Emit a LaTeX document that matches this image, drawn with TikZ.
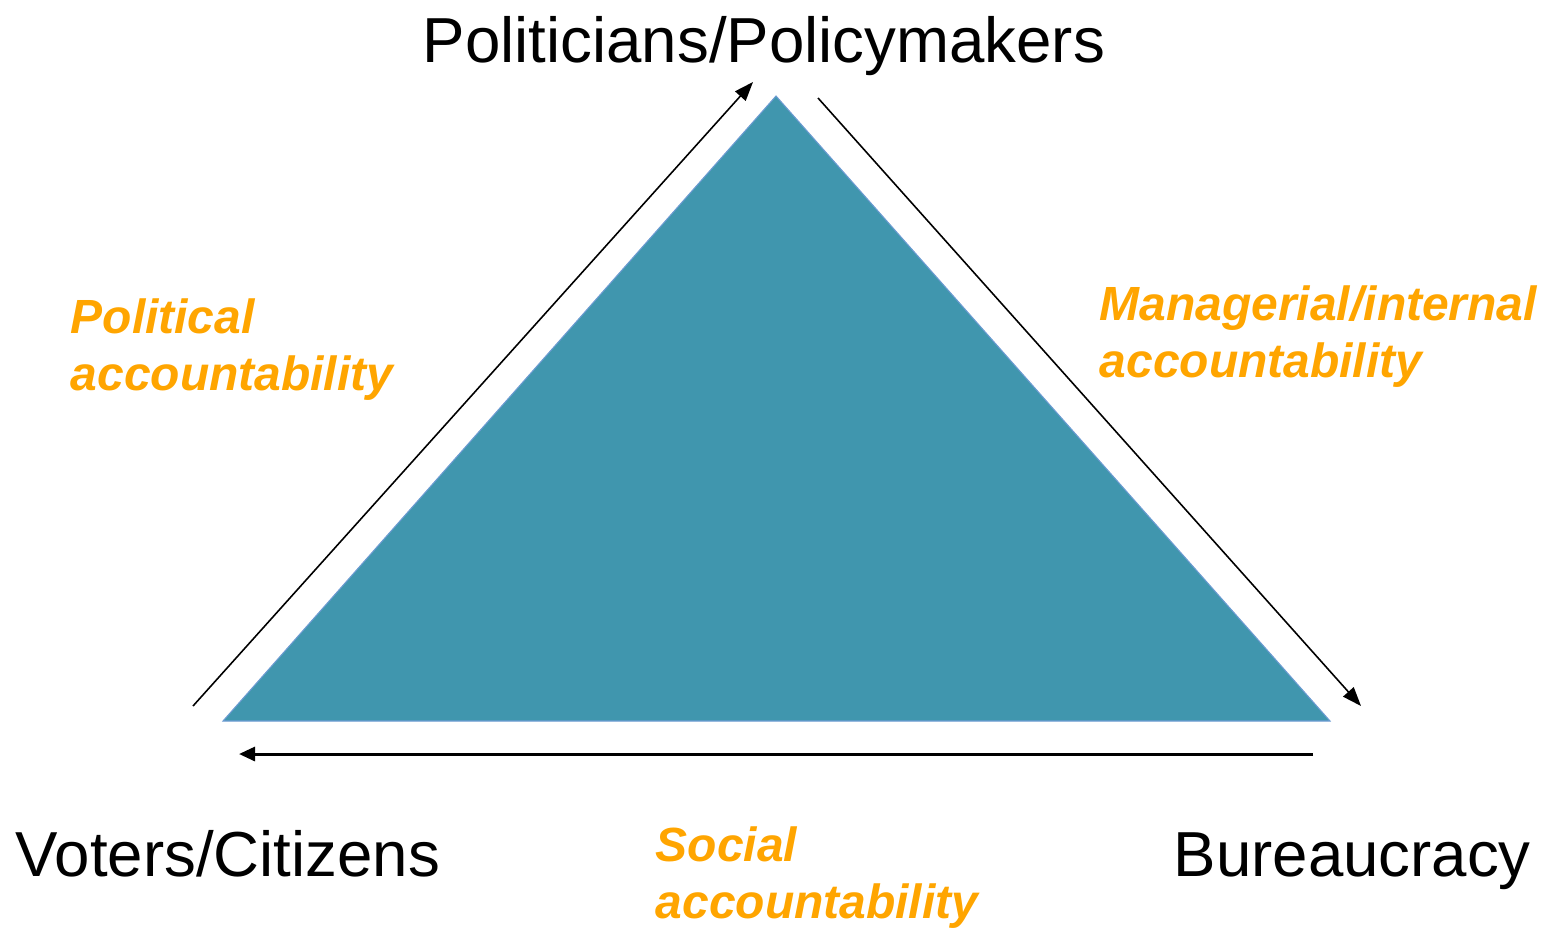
\documentclass[tikz,border=0pt]{standalone}
\usepackage{fontspec}
\setmainfont{Liberation Sans}
\definecolor{triteal}{HTML}{4096AE}
\definecolor{triedge}{HTML}{6C9BD2}
\definecolor{accorange}{HTML}{FFA500}
\usetikzlibrary{arrows.meta}
\tikzset{
  actor/.style={font=\fontsize{18.1}{21}\selectfont, inner sep=0pt, anchor=base west},
  acclabel/.style={font=\fontsize{13.65}{16.2}\selectfont\bfseries\itshape,
    color=accorange, align=left, inner sep=0pt, anchor=base west},
  thinarrow/.style={-{Triangle[length=1.9mm, width=1.4mm]}, line width=0.45pt},
  thickarrow/.style={-{Triangle[length=1.6mm, width=1.4mm]}, line width=0.85pt}
}
\begin{document}
\begin{tikzpicture}[x=0.1mm, y=-0.1mm]
    \useasboundingbox (0,0) rectangle (1549,928);
    % Triangle
    \draw[fill=triteal, draw=triedge, line width=0.3pt]
      (776,96) -- (1330,721) -- (223,721) -- cycle;
    % Actors at the corners
    \node[actor] (pol) at (422,62) {Politicians/Policymakers};
    \node[actor] (vot) at (15,876) {Voters/Citizens};
    \node[actor] (bur) at (1173,876) {Bureaucracy};
    % Accountability labels (anchored at the last line)
    \node[acclabel] (polacc) at (70,390) {Political\\accountability};
    \node[acclabel] (manacc) at (1099,377) {Managerial/internal\\accountability};
    \node[acclabel] (socacc) at (655,918) {Social\\accountability};
    % Arrow ends
    \coordinate (vstart) at (193,706);
    \coordinate (pend) at (753,82);
    \coordinate (pstart) at (818,98);
    \coordinate (bend) at (1361,706);
    \coordinate (bstart) at (1313,754);
    \coordinate (vend) at (239,754);
    % Arrows
    \draw[thinarrow] (vstart) -- (pend);
    \draw[thinarrow] (pstart) -- (bend);
    \draw[thickarrow] (bstart) -- (vend);
  \end{tikzpicture}
\end{document}
